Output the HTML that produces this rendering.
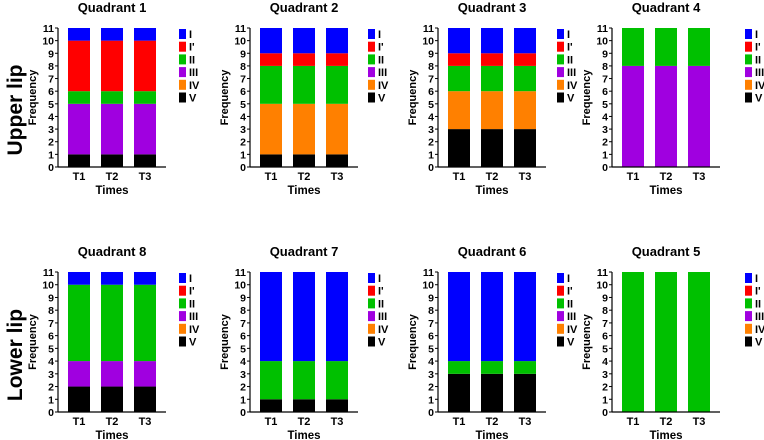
<!DOCTYPE html>
<html><head><meta charset="utf-8">
<style>
html,body{margin:0;padding:0;background:#fff;}
svg{display:block;font-family:"Liberation Sans",Arial,sans-serif;font-weight:bold;}
</style></head>
<body>
<svg id="chart" width="764" height="440" viewBox="0 0 764 440" xmlns="http://www.w3.org/2000/svg">
<text transform="translate(22,110) rotate(-90)" text-anchor="middle" font-size="21">Upper lip</text>
<text transform="translate(22,355) rotate(-90)" text-anchor="middle" font-size="21">Lower lip</text>
</svg>
<script>
const categories = ["I","I'","II","III","IV","V"];
const colors = ["#0000ff","#ff0000","#00c000","#a000e0","#ff8000","#000000"];
const times = ["T1","T2","T3"];
const yTicks = [0,1,2,3,4,5,6,7,8,9,10,11];
const titles = ["Quadrant 1","Quadrant 2","Quadrant 3","Quadrant 4","Quadrant 8","Quadrant 7","Quadrant 6","Quadrant 5"];
// stack segments per quadrant, bottom to top: V, IV, III, II, I', I (same for T1-T3)
const q1 = {V:1, IV:0, III:4, II:1, Ip:4, I:1};
const q2 = {V:1, IV:4, III:0, II:3, Ip:1, I:2};
const q3 = {V:3, IV:3, III:0, II:2, Ip:1, I:2};
const q4 = {V:0, IV:0, III:8, II:3, Ip:0, I:0};
const q8 = {V:2, IV:0, III:2, II:6, Ip:0, I:1};
const q7 = {V:1, IV:0, III:0, II:3, Ip:0, I:7};
const q6 = {V:3, IV:0, III:0, II:1, Ip:0, I:7};
const q5 = {V:0, IV:0, III:0, II:11, Ip:0, I:0};
const quadData = [q1,q2,q3,q4,q8,q7,q6,q5];

const svg = document.getElementById('chart');
const NS = "http://www.w3.org/2000/svg";
function mk(tag, attrs, txt){const e=document.createElementNS(NS,tag);for(const k in attrs)e.setAttribute(k,attrs[k]);if(txt!==undefined)e.textContent=txt;svg.appendChild(e);return e;}
const axX = [58,250,438,612];
const legX = [179,368,557,745];
const rows = [{y0:167,y11:28},{y0:412,y11:272}];
const order = ["V","IV","III","II","Ip","I"];
const colOf = {V:colors[5],IV:colors[4],III:colors[3],II:colors[2],Ip:colors[1],I:colors[0]};

quadData.forEach((d,qi)=>{
  const r = rows[Math.floor(qi/4)], ax = axX[qi%4], lx = legX[qi%4];
  const yS = v => r.y0 - (r.y0 - r.y11) * v / 11;
  const bx = i => ax + 10 + i*33;
  const t = mk('text',{x:ax+54,y:r.y11-16,'text-anchor':'middle','font-size':13},titles[qi]);
  
  
  times.forEach((tm,i)=>{
    let acc = 0;
    order.forEach(k=>{
      const v = d[k];
      if(v>0){
        const rc = mk('rect',{x:bx(i),y:yS(acc+v),width:22,height:yS(acc)-yS(acc+v),fill:colOf[k]});
        
        
      }
      acc += v;
    });
    const tl = mk('text',{x:bx(i)+11,y:r.y0+13,'text-anchor':'middle','font-size':11},tm);
    
    
  });
  const ya = mk('line',{x1:ax,y1:r.y0,x2:ax,y2:r.y11,stroke:'#000','stroke-width':1.2});
  
  
  const xa = mk('line',{x1:ax,y1:r.y0,x2:ax+108,y2:r.y0,stroke:'#000','stroke-width':1.2});
  
  
  yTicks.forEach(v=>{
    const tk = mk('line',{x1:ax-3,y1:yS(v),x2:ax,y2:yS(v),stroke:'#000','stroke-width':1});
    
    
    const lb = mk('text',{x:ax-4,y:yS(v)+4,'text-anchor':'end','font-size':10.5},String(v));
    
    
  });
  const yt = mk('text',{transform:`translate(${ax-22},${(r.y0+r.y11)/2}) rotate(-90)`,'text-anchor':'middle','font-size':11},'Frequency');
  
  
  const xt = mk('text',{x:ax+54,y:r.y0+27,'text-anchor':'middle','font-size':11.5},'Times');
  
  
  categories.forEach((c,ci)=>{
    const ly = r.y11 + 1 + ci*12.7;
    const sw = mk('rect',{x:lx,y:ly,width:7,height:10,fill:colors[ci]});
    
    
    const lt = mk('text',{x:lx+10,y:ly+9,'font-size':11},c);
    
    
  });
});
</script>
</body></html>
